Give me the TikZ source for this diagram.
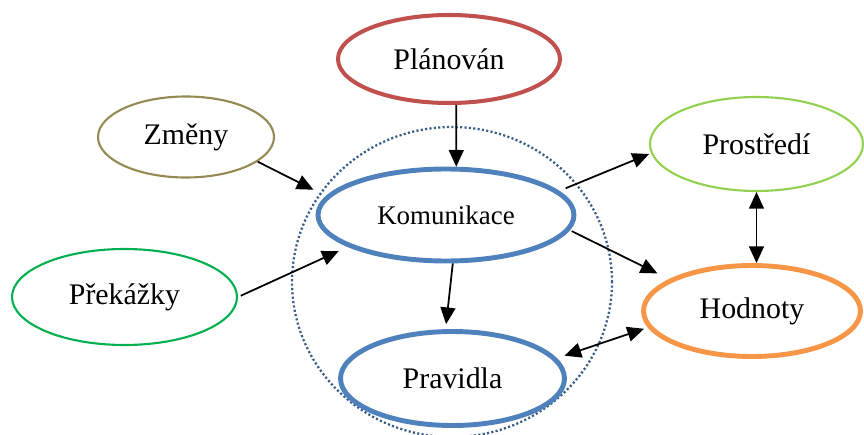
\documentclass[tikz,border=0pt]{standalone}
\usepackage{fontspec}
\setmainfont{Liberation Serif}
\usetikzlibrary{arrows.meta,shapes.geometric}
\definecolor{cervena}{HTML}{C0504D}
\definecolor{olivova}{HTML}{948A54}
\definecolor{zelena}{HTML}{00B050}
\definecolor{svetlezelena}{HTML}{92D050}
\definecolor{modra}{HTML}{4F81BD}
\definecolor{oranzova}{HTML}{F79646}
\definecolor{tmavemodra}{HTML}{385D8A}
\begin{document}
\begin{tikzpicture}[
	bublina/.style={ellipse,draw,inner sep=0pt,font=\fontsize{17}{20}\selectfont},
	tenka/.style={bublina,line width=1.2pt},
	silna/.style={bublina,line width=2.8pt},
	sipka/.style={line width=1pt,-{Triangle[length=9.5pt,width=8.5pt]}},
	obousipka/.style={line width=1pt,{Triangle[length=9.5pt,width=8.5pt]}-{Triangle[length=9.5pt,width=8.5pt]}}]
	\useasboundingbox (0,0) rectangle (17.28,8.68);
	% vnejsi kruh
	\draw[color=tmavemodra,line width=1.3pt,dash pattern=on 1.2pt off 1.3pt] (9.04,3.04) ellipse [x radius=3.2,y radius=3.1];
	% uzly
	\node[bublina,line width=2.3pt,draw=cervena,minimum width=4.44cm,minimum height=1.76cm] (planovan) at (8.98,7.50) {Plánován};
	\node[tenka,draw=olivova,minimum width=3.52cm,minimum height=1.62cm] (zmeny) at (3.72,5.94) {Změny};
	\node[tenka,draw=zelena,minimum width=4.50cm,minimum height=1.92cm] (prekazky) at (2.49,2.74) {Překážky};
	\node[silna,draw=modra,minimum width=5.12cm,minimum height=1.84cm,font=\fontsize{15.3}{18}\selectfont] (komunikace) at (8.92,4.38) {Komunikace};
	\node[silna,draw=modra,minimum width=4.48cm,minimum height=1.88cm] (pravidla) at (9.05,1.11) {Pravidla};
	\node[tenka,draw=svetlezelena,minimum width=4.26cm,minimum height=1.88cm] (prostredi) at (15.13,5.80) {Prostředí};
	\node[silna,draw=oranzova,minimum width=4.34cm,minimum height=1.82cm] (hodnoty) at (15.04,2.46) {Hodnoty};
	% sipky
	\draw[sipka] (planovan.-81) -- (komunikace.78);
	\draw[sipka,shorten >=0.28cm] (zmeny.-19) -- (komunikace.171);
	\draw[sipka,shorten <=0.06cm,shorten >=0.2cm] (prekazky.east) -- (komunikace.198);
	\draw[sipka,shorten >=0.1cm] (komunikace.-82) -- (pravidla.98);
	\draw[sipka,shorten <=0.14cm,shorten >=0.04cm] (komunikace.12) -- (prostredi.185);
	\draw[sipka,shorten <=0.04cm,shorten >=0.26cm] (komunikace.-7) -- (hodnoty.159);
	\draw[obousipka] (prostredi.south) -- (prostredi.south |- hodnoty.north);
	\draw[obousipka,shorten <=0.16cm,shorten >=0.08cm] (pravidla.11) -- (hodnoty.189);
\end{tikzpicture}
\end{document}
